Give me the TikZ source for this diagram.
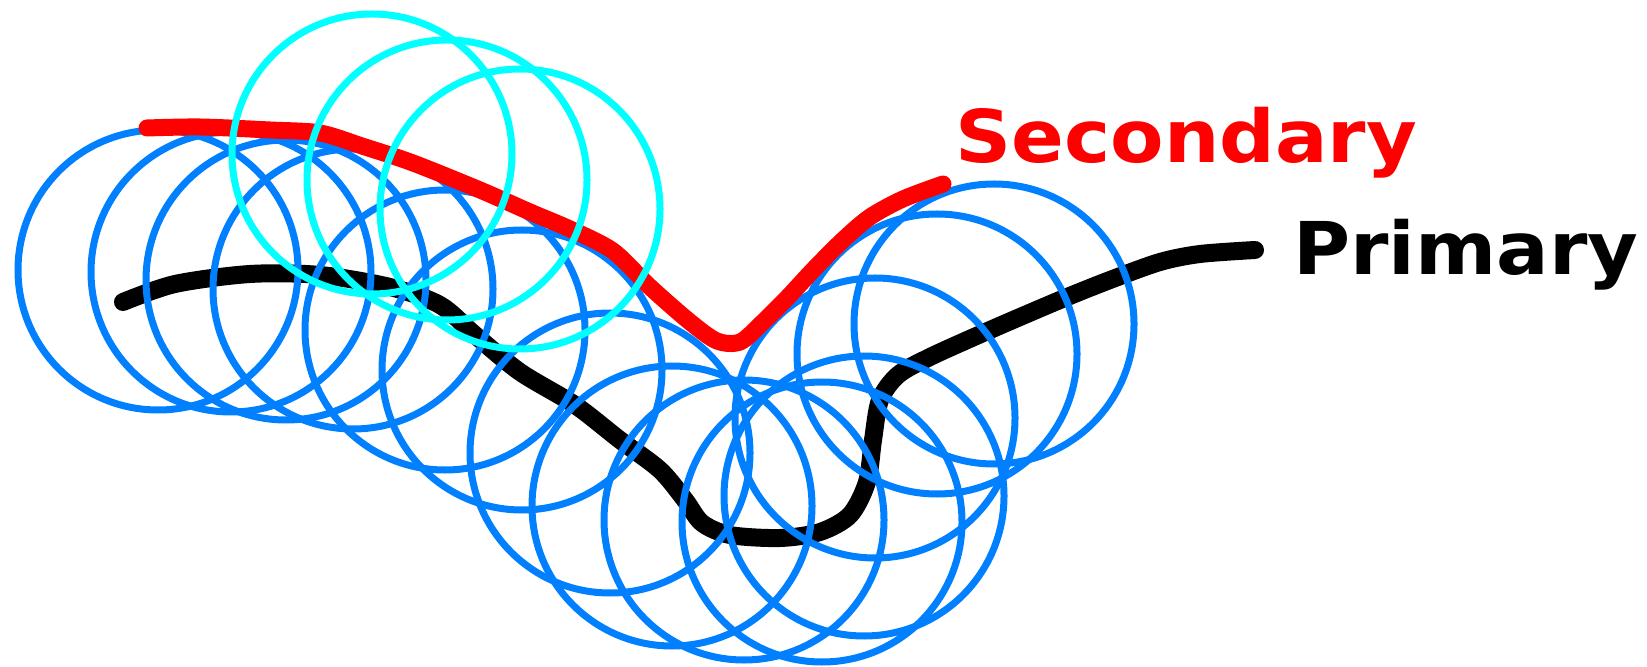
\documentclass[tikz,border=0pt]{standalone}
\usepackage{fontspec}
\setmainfont{DejaVu Sans}
\definecolor{cblue}{RGB}{0,128,255}
\definecolor{ccyan}{RGB}{0,255,255}
\definecolor{cred}{RGB}{255,0,0}
\tikzset{
  bluecircle/.style={draw=cblue, line width=3.5pt},
  cyancircle/.style={draw=ccyan, line width=3.5pt},
  primarypath/.style={draw=black, line width=9pt, line cap=round, line join=round},
  secondarypath/.style={draw=cred, line width=8.5pt, line cap=round, line join=round},
  labeltext/.style={inner sep=0pt, font=\fontsize{36.4pt}{40pt}\selectfont\bfseries}
}
\begin{document}
\begin{tikzpicture}[x=0.5pt, y=-0.5pt]
\useasboundingbox (0,0) rectangle (1647,667);
% primary path
\draw[primarypath] plot[smooth, tension=0.5] coordinates {
 (123,302) (175,284) (250,274) (320,275) (390,287) (440,305) (475,335)
 (520,372) (575,405) (620,440) (660,470) (685,500) (702,523) (730,535)
 (780,538) (820,532) (850,515) (867,482) (873,440) (880,400) (898,375)
 (930,357) (990,330) (1060,300) (1110,280) (1160,262) (1200,254) (1255,250)};
% blue circles
\foreach \n/\cx/\cy in {A/158/270, B/231/272, C/286/280, D/353/289, E/445/330,
  F/522/370, G/610/453, H/672/506, N/744/520, I/822/522, M/864/496,
  L/875/418, K/937/354, J/994/324}{
  \path[bluecircle] (\cx,\cy) circle[radius=70pt];
}
% secondary path
\draw[secondarypath] plot[smooth, tension=0.5] coordinates {
 (147,128) (200,127) (270,130) (320,133) (362,146) (413,163) (480,190)
 (530,212) (570,229) (613,251) (650,287) (690,322) (717,341) (740,342)
 (762,323) (788,297) (815,268) (843,240) (870,217) (903,199) (943,184)};
% cyan circles
\foreach \n/\cx/\cy in {P/372/154, Q/447/180, R/520/209}{
  \path[cyancircle] (\cx,\cy) circle[radius=70pt];
}
% labels
\node[labeltext, text=cred, anchor=base west] (sec) at (955,163) {\scalebox{1.07}[1]{Secondary}};
\node[labeltext, text=black, anchor=base west] (pri) at (1293,275) {\scalebox{1.07}[1]{Primary}};
\end{tikzpicture}
\end{document}
